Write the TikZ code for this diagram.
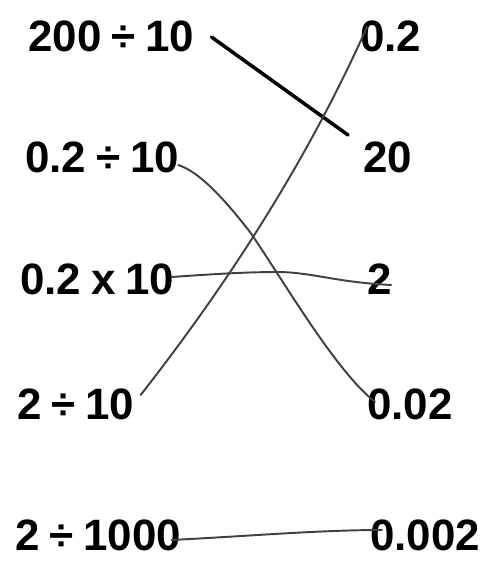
\documentclass[tikz,border=0pt]{standalone}
\usepackage{fontspec}
\setmainfont{Liberation Sans}[WordSpace=0.8]
\usetikzlibrary{calc}

\begin{document}
\begin{tikzpicture}[x=0.02cm, y=-0.02cm,
  sum/.style={anchor=west, inner sep=0pt, font=\fontsize{25}{29}\selectfont\bfseries},
  pen/.style={line width=1.1pt, draw=black!75, line cap=round},
  bold pen/.style={line width=2pt, draw=black, line cap=round}]
  \useasboundingbox[fill=white] (0,0) rectangle (501,574);

  % Left column
  \node[sum] (q1) at (28,36) {200 ÷ 10};
  \node[sum] (q2) at (25,157) {0.2 ÷ 10};
  \node[sum] (q3) at (20,279) {0.2 x 10};
  \node[sum] (q4) at (17,404) {2 ÷ 10};
  \node[sum] (q5) at (15,535) {2 ÷ 1000};

  % Right column
  \node[sum] (a1) at (360,36) {0.2};
  \node[sum] (a2) at (363,157) {20};
  \node[sum] (a3) at (367,279) {2};
  \node[sum] (a4) at (367,404) {0.02};
  \node[sum] (a5) at (370,535) {0.002};

  % 200 ÷ 10 = 20
  \draw[bold pen] ($(q1.east)+(17,1)$) -- ($(a2.west)+(-15,-22)$);

  % 0.2 ÷ 10 = 0.02
  \draw[pen] ($(q2.east)+(-1,8)$) .. controls (200,172) and (225,200) .. (250,232)
    .. controls (285,283) and (335,370) .. ($(a4.west)+(8,-2)$);

  % 0.2 x 10 = 2
  \draw[pen] ($(q3.east)+(-3,-2)$) .. controls (215,274) and (245,272) .. (280,272)
    .. controls (315,273) and (335,282) .. ($(a3.east)+(-1,6)$);

  % 2 ÷ 10 = 0.2
  \draw[pen] ($(q4.east)+(6,-9)$) .. controls (237,272) and (312,150) .. ($(a1.west)+(7,-9)$);

  % 2 ÷ 1000 = 0.002
  \draw[pen] ($(q5.east)+(-10,5)$) .. controls (250,536) and (320,530) .. ($(a5.west)+(12,-5)$);
\end{tikzpicture}
\end{document}
